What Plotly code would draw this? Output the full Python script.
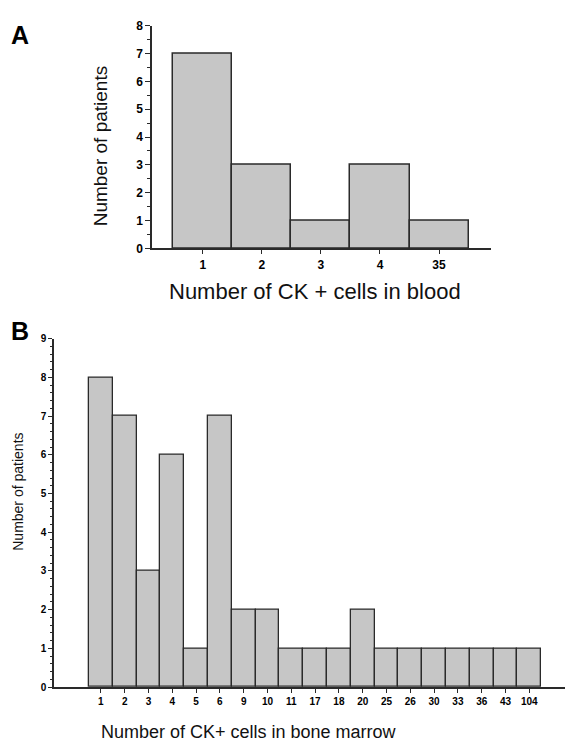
import plotly.graph_objects as go

W, H = 566, 749

# Panel A data
blood_cells = ["1", "2", "3", "4", "35"]
blood_patients = [7, 3, 1, 3, 1]

# Panel B data
marrow_cells = ["1", "2", "3", "4", "5", "6", "9", "10", "11", "17", "18",
                "20", "25", "26", "30", "33", "36", "43", "104"]
marrow_patients = [8, 7, 3, 6, 1, 7, 2, 2, 1, 1, 1, 2, 1, 1, 1, 1, 1, 1, 1]

FONT = "Arial, Liberation Sans, sans-serif"
FILL = "#c6c6c6"
EDGE = "#2a2a2a"

def px_x(p):
    return p / W

def px_y(p):
    return 1 - p / H

fig = go.Figure()
fig.add_trace(go.Bar(x=blood_cells, y=blood_patients, xaxis="x", yaxis="y",
                     marker=dict(color=FILL, line=dict(color=EDGE, width=1.5)),
                     width=1.0, showlegend=False))
fig.add_trace(go.Bar(x=marrow_cells, y=marrow_patients, xaxis="x2", yaxis="y2",
                     marker=dict(color=FILL, line=dict(color=EDGE, width=1.3)),
                     width=1.0, showlegend=False))

axis_common = dict(showline=True, linecolor=EDGE, linewidth=1.5, showgrid=False,
                   zeroline=False, ticks="outside", tickcolor=EDGE, tickwidth=1.2,
                   color="#000")

fig.update_layout(
    width=W, height=H,
    margin=dict(l=0, r=0, t=0, b=0),
    paper_bgcolor="white", plot_bgcolor="white",
    bargap=0,
    font=dict(family=FONT, color="#111"),
    xaxis=dict(axis_common, type="category", domain=[px_x(152), px_x(491)],
               range=[-0.86, 4.88], anchor="y", ticklen=4,
               tickfont=dict(size=12, color="#000", weight=600)),
    yaxis=dict(axis_common, domain=[px_y(246), px_y(19)], range=[0, 8],
               anchor="x", dtick=1, ticklen=5,
               tickfont=dict(size=12, color="#000", weight=600),
               minor=dict(dtick=0.5, ticklen=3, tickcolor=EDGE, ticks="outside")),
    xaxis2=dict(axis_common, type="category", domain=[px_x(54), px_x(565)],
                range=[-1.97, 19.5], anchor="y2", ticklen=4,
                tickfont=dict(size=10, color="#000", weight=600)),
    yaxis2=dict(axis_common, domain=[px_y(693), px_y(338)], range=[0, 9],
                anchor="x2", dtick=1, ticklen=4,
                tickfont=dict(size=10, color="#000", weight=600),
                minor=dict(dtick=0.2, ticklen=2.5, tickcolor=EDGE, ticks="outside")),
    annotations=[
        dict(text="<b>A</b>", x=px_x(9), y=px_y(12), xref="paper", yref="paper",
             xanchor="left", yanchor="top", showarrow=False,
             font=dict(size=25, family=FONT, color="#000")),
        dict(text="<b>B</b>", x=px_x(9), y=px_y(314), xref="paper", yref="paper",
             xanchor="left", yanchor="top", showarrow=False,
             font=dict(size=25, family=FONT, color="#000")),
        dict(text="Number of CK + cells in blood", x=px_x(315), y=px_y(290),
             xref="paper", yref="paper", xanchor="center", yanchor="middle",
             showarrow=False, font=dict(size=22, family=FONT, color="#111")),
        dict(text="Number of patients", x=px_x(100), y=px_y(142),
             xref="paper", yref="paper", xanchor="center", yanchor="middle",
             textangle=-90, showarrow=False,
             font=dict(size=19, family=FONT, color="#111")),
        dict(text="Number of CK+ cells in bone marrow", x=px_x(249), y=px_y(739),
             xref="paper", yref="paper", xanchor="center", yanchor="middle",
             showarrow=False, font=dict(size=18, family=FONT, color="#111")),
        dict(text="Number of patients", x=px_x(18), y=px_y(494),
             xref="paper", yref="paper", xanchor="center", yanchor="middle",
             textangle=-90, showarrow=False,
             font=dict(size=14, family=FONT, color="#111")),
    ],
)

fig.write_html("out.html")
